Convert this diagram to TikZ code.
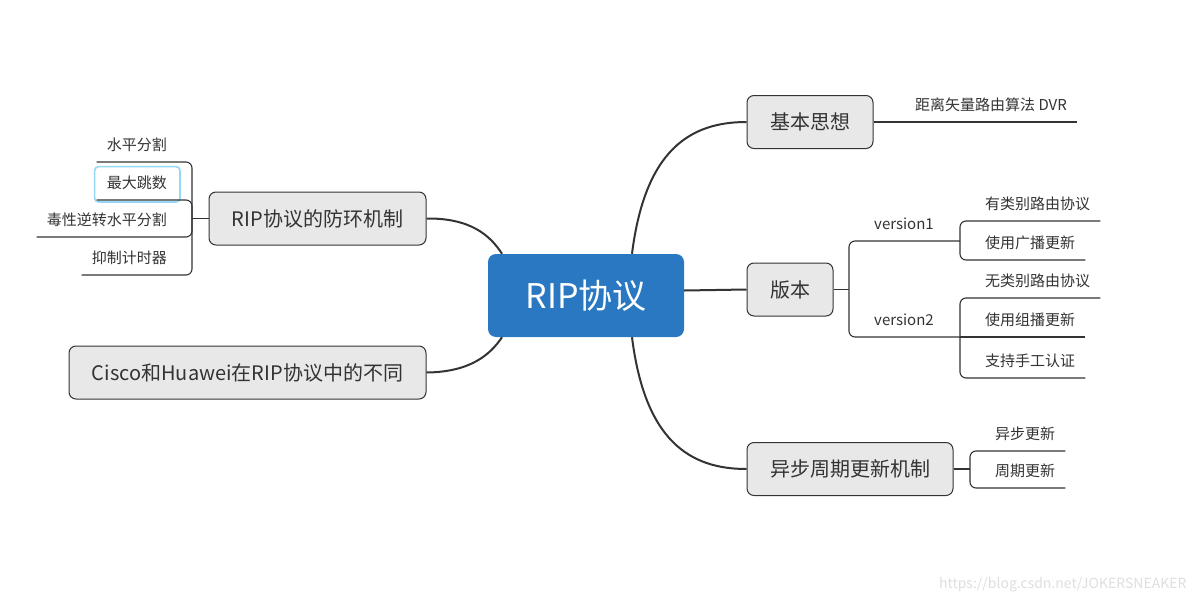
\documentclass[tikz,border=0pt]{standalone}
\usepackage{fontspec}
\setmainfont{Noto Sans CJK SC}
\usetikzlibrary{positioning}
\definecolor{rootblue}{RGB}{42,120,194}
\definecolor{boxgray}{RGB}{232,232,232}
\definecolor{inkgray}{RGB}{51,51,51}
\definecolor{selblue}{RGB}{150,215,245}
\tikzset{root/.style={rectangle,rounded corners=8pt,fill=rootblue,text=white,font=\fontsize{34}{40}\selectfont,minimum width=196pt,minimum height=83pt,inner sep=0pt},
topic/.style={rectangle,rounded corners=7pt,draw=inkgray,fill=boxgray,line width=1pt,text=inkgray,font=\fontsize{20}{24}\selectfont,minimum height=53pt,inner sep=0pt},
leaf/.style={text=inkgray,font=\fontsize{15}{18}\selectfont,inner xsep=0pt,inner ysep=8pt,text height=11pt,text depth=3pt},}
\tikzstyle{branch} = [line width=2pt,inkgray]
\tikzstyle{twig} = [line width=1.1pt,inkgray,rounded corners=6pt]

\begin{document}
\begin{tikzpicture}[x=1pt,y=-1pt]
    \useasboundingbox (0,0) rectangle (1200,605);
    \node[root] (rip) at (586,295.5) {RIP协议};

    \node[topic,minimum width=126pt] (idea) at (810,122) {基本思想};
    \node[topic,minimum width=86pt] (ver) at (790,289.5) {版本};
    \node[topic,minimum width=206pt] (async) at (850,469) {异步周期更新机制};
    \node[topic,minimum width=217pt] (loop) at (317.5,218.5) {RIP协议的防环机制};
    \node[topic,minimum width=357pt] (cisco) at (247.5,372.5) {Cisco和Huawei在RIP协议中的不同};

    \draw [branch] ([xshift=46pt]rip.north) .. controls (645,150) and (690,122) .. (idea.west);
    \draw [branch] ([yshift=5pt]rip.east) -- (ver.west);
    \draw [branch] ([xshift=46pt]rip.south) .. controls (645,441) and (690,469) .. (async.west);
    \draw [branch] ([xshift=-84pt]rip.north) .. controls (490,235) and (470,218) .. (loop.east);
    \draw [branch] ([xshift=-84pt]rip.south) .. controls (490,355) and (470,372) .. (cisco.east);

    % basic idea
    \node[leaf,anchor=south west] (dvr) at (915,122) {距离矢量路由算法 DVR};
    \draw [twig] (idea.east) -- ([xshift=10pt]dvr.south east);

    % versions
    \coordinate (vb) at (849,289.5);
    \coordinate (v1b) at (960,241);
    \coordinate (v2b) at (960,337);
    \node[leaf,anchor=south] (v1) at (904,241) {version1};
    \node[leaf,anchor=south] (v2) at (904,337) {version2};
    \draw [twig] (ver.east) -- (vb);
    \draw [twig] (vb) |- (v1b);
    \draw [twig] (vb) |- (v2b);

    \node[leaf,anchor=south west] (c1) at (985,221) {有类别路由协议};
    \node[leaf,anchor=south west] (c2) at (985,260) {使用广播更新};
    \node[leaf,anchor=south west] (c3) at (985,298) {无类别路由协议};
    \node[leaf,anchor=south west] (c4) at (985,337) {使用组播更新};
    \node[leaf,anchor=south west] (c5) at (985,378) {支持手工认证};
    \foreach \n in {c1,c2} \draw [twig] (v1b) |- ([xshift=10pt]\n.south east);
    \foreach \n in {c3,c5} \draw [twig] (v2b) |- ([xshift=10pt]\n.south east);
    \draw [twig] (v2b) -- ([xshift=10pt]c4.south east);

    % periodic update
    \coordinate (ab) at (970,469);
    \node[leaf,anchor=south west] (a1) at (995,451) {异步更新};
    \node[leaf,anchor=south west] (a2) at (995,488) {周期更新};
    \draw [twig] (async.east) -- (ab);
    \foreach \n in {a1,a2} \draw [twig] (ab) |- ([xshift=10pt]\n.south east);

    % loop prevention
    \coordinate (lb) at (192,218.5);
    \node[leaf,anchor=south east] (l1) at (167,162) {水平分割};
    \node[leaf,anchor=south east] (l2) at (167,200) {最大跳数};
    \node[leaf,anchor=south east] (l3) at (167,237) {毒性逆转水平分割};
    \node[leaf,anchor=south east] (l4) at (167,275) {抑制计时器};
    \draw [selblue,line width=1.6pt,rounded corners=4pt] ([shift={(-12pt,3pt)}]l2.north west) rectangle ([shift={(13pt,-2pt)}]l2.south east);
    \draw [twig] (loop.west) -- (lb);
    \foreach \n in {l1,l2,l3,l4} \draw [twig] (lb) |- ([xshift=-10pt]\n.south west);

    \node[anchor=east,text=black!13,font=\fontsize{14}{16}\selectfont] (mark) at (1190,585) {https://blog.csdn.net/JOKERSNEAKER};
\end{tikzpicture}
\end{document}
